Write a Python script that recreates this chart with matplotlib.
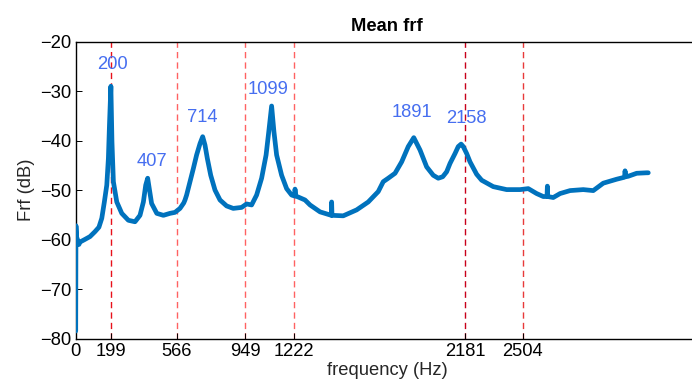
import matplotlib
matplotlib.use("Agg")
import matplotlib.pyplot as plt

plt.rcParams['font.family'] = ['Liberation Sans', 'DejaVu Sans']

# Mean FRF curve (frequency in Hz, magnitude in dB)
freq = [0, 1.5, 5, 12, 18, 24, 50, 80, 108, 130, 146, 160, 174, 183, 189, 197,
        203, 211, 230, 258, 295, 332, 360, 379, 392, 403, 412, 425, 454, 491,
        528, 556, 584, 605, 612, 621, 640, 659, 677, 696, 711, 724, 737, 756,
        780, 808, 845, 882, 929, 957, 985, 1013, 1041, 1066, 1081, 1097, 1110,
        1125, 1153, 1181, 1209, 1226, 1228, 1232, 1246, 1284, 1312, 1368, 1431,
        1433, 1435, 1498, 1573, 1638, 1694, 1722, 1750, 1788, 1825, 1862, 1893,
        1928, 1965, 2002, 2030, 2055, 2077, 2096, 2124, 2142, 2158, 2170, 2189,
        2208, 2245, 2273, 2338, 2413, 2488, 2534, 2581, 2618, 2639, 2641, 2643,
        2674, 2712, 2768, 2842, 2898, 2954, 3029, 3073, 3076, 3080, 3094, 3141,
        3197, 3206]
mag = [-78.5, -57.2, -59.5, -60.2, -61.0, -60.5, -60.0, -59.4, -58.4, -57.5,
       -55.7, -52.5, -49.0, -43.6, -36.9, -29.0,
       -40.2, -48.3, -52.4, -54.7, -56.1, -56.4, -55.1, -52.4, -49.0, -47.6,
       -49.7, -52.7, -54.7, -55.1,
       -54.7, -54.5, -53.7, -52.6, -52.0, -51.0, -48.3, -45.6, -42.9, -40.6,
       -39.2, -40.9, -43.6, -47.0,
       -50.0, -52.0, -53.2, -53.7, -53.5, -52.8, -53.0, -51.0, -47.6, -42.9,
       -38.2, -33.0, -38.2,
       -42.9, -47.0, -49.7, -51.0, -51.2, -49.8, -51.2, -51.4, -52.0, -53.0,
       -54.4, -55.1,
       -52.4, -55.1, -55.2, -54.0, -52.4, -50.3, -48.3, -47.6, -46.6, -44.3,
       -41.2, -39.4,
       -41.9, -45.3, -47.0, -47.6, -47.3, -46.3, -44.6, -42.6, -41.2, -40.7,
       -41.2, -42.6,
       -44.3, -46.8, -48.0, -49.3, -49.9, -49.9, -49.7, -50.7, -51.3, -51.3,
       -49.2, -51.3,
       -51.5, -50.7, -50.1, -49.9, -50.1, -48.6, -47.8, -47.4, -46.1, -47.3,
       -47.2, -46.6,
       -46.5, -46.5]

# Marked frequencies (vertical dashed lines / x ticks)
mark_freqs = [199, 566, 949, 1222, 2181, 2504]
mark_colors = ['#e8101a', '#ff6262', '#ff6262', '#ff6262', '#c8001a', '#e83a3a']
tick_freqs = [0, 199, 566, 949, 1222, 2181, 2504]
tick_labels = ['0', '199', '566', '949', '1222', '2181', '2504']

# Peak labels
peak_labels = ['200', '407', '714', '1099', '1891', '2158']
peak_label_x = [205, 427, 707, 1077, 1881, 2185]
peak_label_y = [-24.7, -44.2, -35.4, -29.6, -34.4, -35.5]

fig = plt.figure(figsize=(6.92, 3.89), dpi=100)
ax = fig.add_axes([75.7 / 692, 1 - 338.5 / 389, (699 - 75.7) / 692, (338.5 - 41.7) / 389])

for fx, c in zip(mark_freqs, mark_colors):
    ax.axvline(fx, color=c, lw=1.0, dashes=(4.5, 3), zorder=1)

ax.plot(freq, mag, color='#0072BD', lw=3.4, solid_joinstyle='round',
        solid_capstyle='round', zorder=3)

for lab, tx, ty in zip(peak_labels, peak_label_x, peak_label_y):
    ax.text(tx, ty, lab, color='#466ef0', fontsize=13.2, ha='center', va='center', zorder=4)

ax.set_xlim(0, 3490)
ax.set_ylim(-80, -20)
ax.set_xticks(tick_freqs)
ax.set_xticklabels(tick_labels)
ax.set_yticks([-80, -70, -60, -50, -40, -30, -20])
ax.set_yticklabels(['\u221280', '\u221270', '\u221260', '\u221250', '\u221240', '\u221230', '\u221220'])
ax.tick_params(direction='in', length=4, width=0.7, labelsize=13.2, pad=3, colors='black')
ax.spines['right'].set_visible(False)
for s in ['left', 'bottom', 'top']:
    ax.spines[s].set_linewidth(1.0)

ax.set_xlabel('frequency (Hz)', fontsize=13.2, color='#262626', labelpad=2)
ax.set_ylabel('Frf (dB)', fontsize=13.2, color='#262626', labelpad=4)
ax.set_title('Mean frf', fontsize=13.2, fontweight='bold', pad=8)

fig.savefig('out.png', dpi=100)
